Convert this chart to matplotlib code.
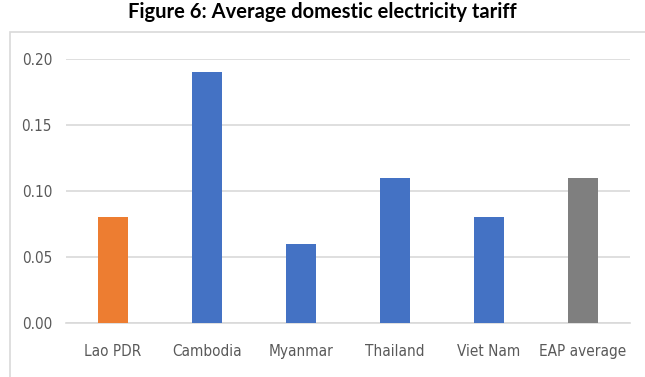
import matplotlib
matplotlib.use('Agg')
from matplotlib import pyplot as plt
from matplotlib.patches import Rectangle

# values
countries = ['Lao PDR', 'Cambodia', 'Myanmar', 'Thailand', 'Viet Nam', 'EAP average']
tariff = [0.08, 0.19, 0.06, 0.11, 0.08, 0.11]
bar_colors = ['#ED7D31', '#4472C4', '#4472C4', '#4472C4', '#4472C4', '#7F7F7F']
yticks = [0.00, 0.05, 0.10, 0.15, 0.20]

label_kw = dict(family='DejaVu Sans', stretch='condensed', fontsize=11, color='#595959')

fig = plt.figure(figsize=(6.45, 3.77), dpi=100)
ax = fig.add_axes([66/645, 1 - 323/377, (630 - 66)/645, (323 - 59)/377])

x = range(len(countries))
ax.bar(x, tariff, width=0.31, color=bar_colors, zorder=3)

ax.set_xlim(-0.5, len(countries) - 0.5)
ax.set_ylim(0, 0.20)
ax.set_yticks(yticks)
ax.set_yticklabels(['%.2f' % v for v in yticks], **label_kw)
ax.set_xticks(list(x))
ax.set_xticklabels(countries, **label_kw)
ax.tick_params(axis='y', length=0, pad=10)
ax.tick_params(axis='x', length=0, pad=15)

ax.grid(axis='y', color='#D9D9D9', linewidth=1.2, zorder=0)
for side in ['top', 'right', 'left']:
    ax.spines[side].set_visible(False)
ax.spines['bottom'].set_color('#D9D9D9')
ax.spines['bottom'].set_linewidth(1.2)

# chart frame, open at the right and bottom as in the cropped picture
fig.patches.append(Rectangle((10/645, -0.1), 1.2, 1 - 32/377 + 0.1,
                             transform=fig.transFigure, fill=False,
                             edgecolor='#D9D9D9', linewidth=1.2))

fig.text(0.5, 1 - 12/377, 'Figure 6: Average domestic electricity tariff',
         ha='center', va='center', family=['Lato', 'DejaVu Sans'],
         fontweight='bold', fontsize=14.5, color='black')

fig.savefig('out.png', dpi=100)
